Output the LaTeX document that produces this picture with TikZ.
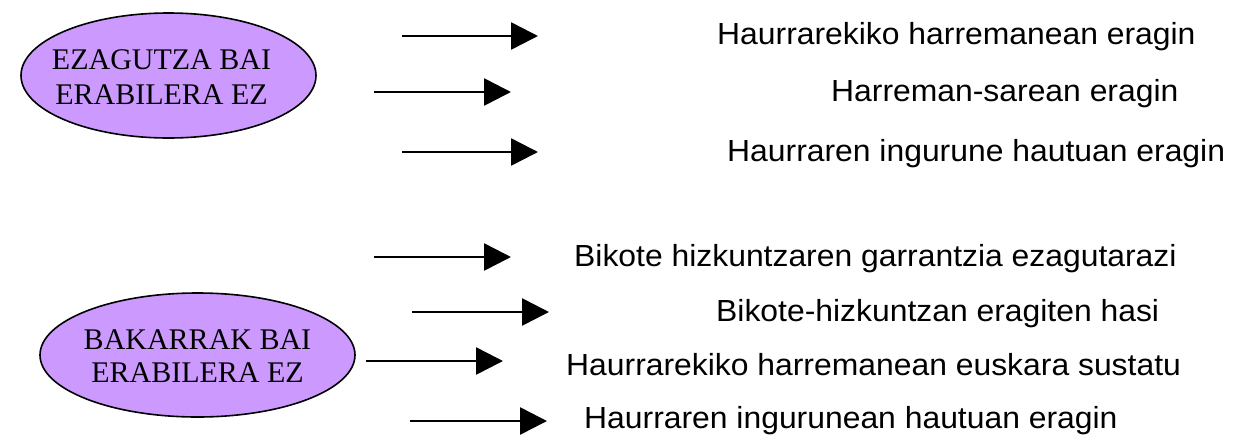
\documentclass[tikz,border=0pt]{standalone}
\usepackage{fontspec}
\setmainfont{Liberation Serif}
\newfontfamily\goalfont[FakeStretch=1.045]{Liberation Sans}
\usetikzlibrary{positioning,arrows.meta,shapes.geometric}
\definecolor{lila}{RGB}{204,153,255}
\tikzset{
  bubble/.style={ellipse,draw,line width=1.6pt,fill=lila,inner sep=0pt},
  bubtext/.style={align=center,inner sep=0pt,font=\fontsize{30}{34}\selectfont},
  goal/.style={anchor=base west,inner sep=0pt,font=\goalfont\fontsize{30.5}{33}\selectfont},
  arr/.style={line width=2.6pt,-{Triangle[length=27pt,width=27pt]}}
}
\begin{document}
\begin{tikzpicture}[x=1pt,y=-1pt]
  \useasboundingbox (0,0) rectangle (1236,437);
  \node[bubble,minimum width=295pt,minimum height=125pt] (ezag) at (168.5,75.5) {};
  \node[bubtext,font=\fontsize{30}{35}\selectfont] (ezagtxt) at (161.5,77) {EZAGUTZA BAI\\ERABILERA EZ};
  \node[bubble,minimum width=315pt,minimum height=124pt] (bakar) at (197.5,355) {};
  \node[bubtext,font=\fontsize{30}{33}\selectfont] (bakartxt) at (197.5,356) {BAKARRAK BAI\\ERABILERA EZ};
  \coordinate (a1s) at (402,36); \coordinate (a1e) at (538,36); \draw[arr] (a1s) -- (a1e);
  \coordinate (a2s) at (374,92); \coordinate (a2e) at (511,92); \draw[arr] (a2s) -- (a2e);
  \coordinate (a3s) at (402,152); \coordinate (a3e) at (538,152); \draw[arr] (a3s) -- (a3e);
  \coordinate (a4s) at (374,257); \coordinate (a4e) at (511,257); \draw[arr] (a4s) -- (a4e);
  \coordinate (a5s) at (412,312); \coordinate (a5e) at (549,312); \draw[arr] (a5s) -- (a5e);
  \coordinate (a6s) at (366,361); \coordinate (a6e) at (503,361); \draw[arr] (a6s) -- (a6e);
  \coordinate (a7s) at (410,421); \coordinate (a7e) at (547,421); \draw[arr] (a7s) -- (a7e);
  \node[goal] (g1) at (717,44) {Haurrarekiko harremanean eragin};
  \node[goal] (g2) at (831,101) {Harreman-sarean eragin};
  \node[goal] (g3) at (727,161) {Haurraren ingurune hautuan eragin};
  \node[goal] (g4) at (574,266) {Bikote hizkuntzaren garrantzia ezagutarazi};
  \node[goal] (g5) at (716,321) {Bikote-hizkuntzan eragiten hasi};
  \node[goal] (g6) at (566,375) {Haurrarekiko harremanean euskara sustatu};
  \node[goal] (g7) at (584,428) {Haurraren ingurunean hautuan eragin};
\end{tikzpicture}
\end{document}
